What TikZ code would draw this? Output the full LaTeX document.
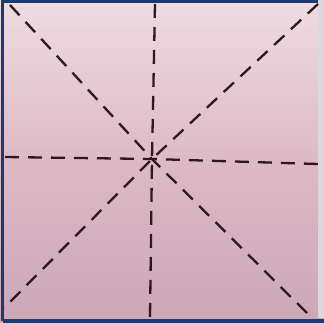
\documentclass[tikz,border=0pt]{standalone}
\usetikzlibrary{calc}
\definecolor{paperTop}{HTML}{EEDCE2}
\definecolor{paperMid}{HTML}{DDB9C6}
\definecolor{paperBot}{HTML}{CCA8B7}
\definecolor{frameBlue}{HTML}{1E3A70}
\definecolor{foldInk}{HTML}{2E1820}
\definecolor{edgeGray}{HTML}{DCD8DC}
\tikzset{
  foldline/.style={draw=foldInk, line width=2.3pt, dash pattern=on 14pt off 9pt},
  frameline/.style={draw=frameBlue, line width=2.6pt},
  framebottom/.style={draw=frameBlue, line width=4pt}
}
\begin{document}
\begin{tikzpicture}[x=1pt,y=-1pt]
  \useasboundingbox (0,0) rectangle (324,323);
  % paper
  \shade[top color=paperTop, bottom color=paperBot, middle color=paperMid] (0,0) rectangle (324,323);
  \fill[edgeGray] (318,0) rectangle (324,318);
  % frame
  \coordinate (tl) at (2.5,1.3);
  \coordinate (tr) at (318,1.3);
  \coordinate (bl) at (2.5,320.5);
  \coordinate (br) at (324,320.5);
  \draw[frameline] (tr) -- (tl) -- (bl);
  \draw[framebottom] (bl) -- (br);
  % fold lines
  \coordinate (c) at (152,159);
  \coordinate (vt) at (155,4);
  \coordinate (vb) at (150,318);
  \coordinate (hl) at (5,157);
  \coordinate (hr) at (318,164);
  \coordinate (d1a) at (10,5);
  \coordinate (d1b) at (312,318);
  \coordinate (d2a) at (318,4);
  \coordinate (d2b) at (4,308);
  \draw[foldline] (vt) -- (c) -- (vb);
  \draw[foldline] (hl) -- (c) -- (hr);
  \draw[foldline] (d1a) -- (c) -- (d1b);
  \draw[foldline] (d2a) -- (c) -- (d2b);
\end{tikzpicture}
\end{document}
